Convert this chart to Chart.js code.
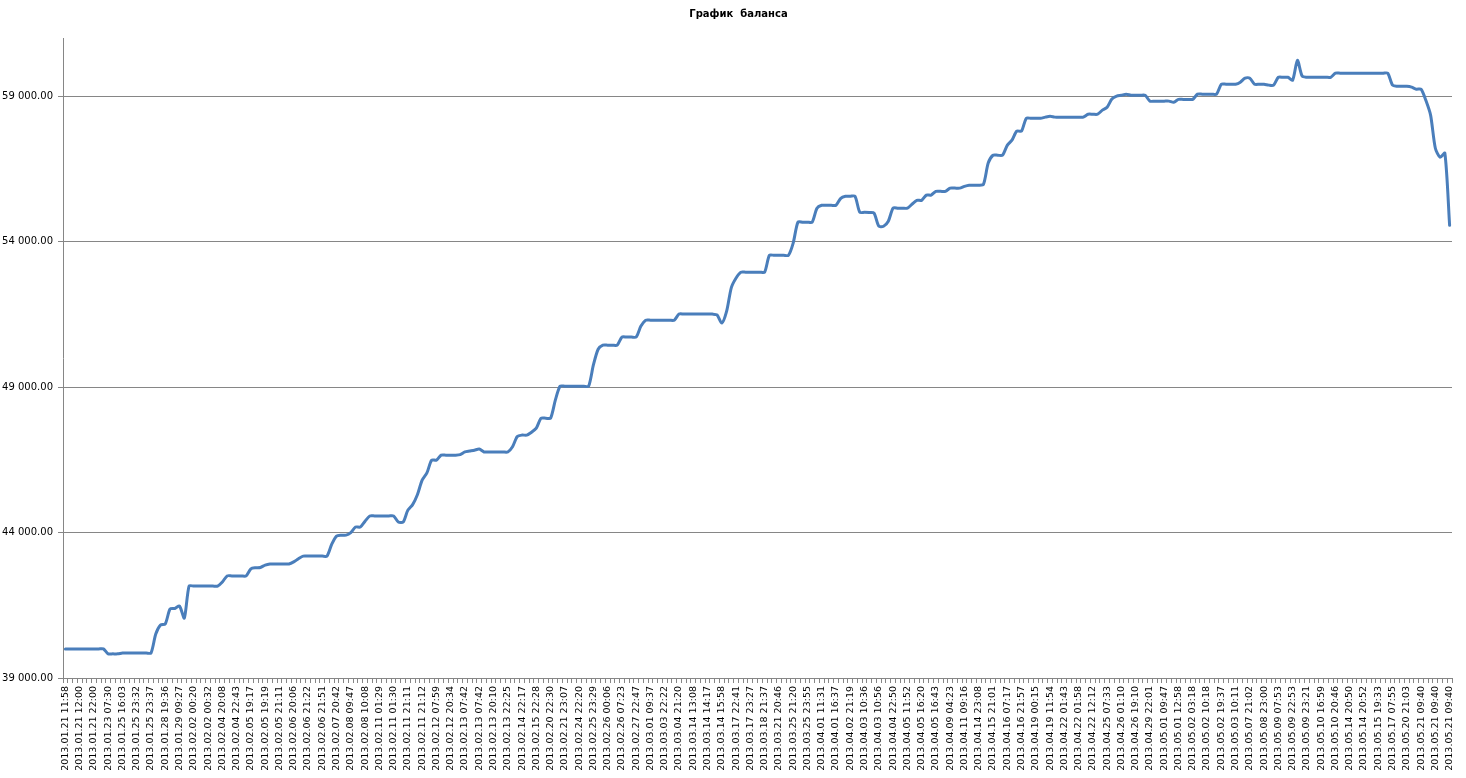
<!DOCTYPE html>
<html>
<head>
<meta charset="utf-8">
<title>График баланса</title>
<script src="https://cdn.jsdelivr.net/npm/chart.js@4.4.1/dist/chart.umd.min.js"></script>
<style>
  html, body { margin: 0; padding: 0; background: #ffffff; }
  #chartBalance { display: block; }
</style>
</head>
<body>
<canvas id="chartBalance" width="1466" height="778"></canvas>
<script>
// Подписи оси X (каждая третья точка)
const shownLabels = [
  '2013.01.21 11:58','2013.01.21 12:00','2013.01.21 22:00','2013.01.23 07:30','2013.01.25 16:03','2013.01.25 23:32',
  '2013.01.25 23:37','2013.01.28 19:36','2013.01.29 09:27','2013.02.02 00:20','2013.02.02 00:32','2013.02.04 20:08',
  '2013.02.04 22:43','2013.02.05 19:17','2013.02.05 19:19','2013.02.05 21:11','2013.02.06 20:06',
  '2013.02.06 21:22','2013.02.06 21:51','2013.02.07 20:42','2013.02.08 09:47','2013.02.08 10:08','2013.02.11 01:29',
  '2013.02.11 01:30','2013.02.11 21:11','2013.02.11 21:12','2013.02.12 07:59','2013.02.12 20:34','2013.02.13 07:42',
  '2013.02.13 07:42','2013.02.13 20:10','2013.02.13 22:25','2013.02.14 22:17','2013.02.15 22:28',
  '2013.02.20 22:30','2013.02.21 23:07','2013.02.24 22:20','2013.02.25 23:29','2013.02.26 00:06','2013.02.26 07:23',
  '2013.02.27 22:47','2013.03.01 09:37','2013.03.03 22:22','2013.03.04 21:20','2013.03.14 13:08','2013.03.14 14:17',
  '2013.03.14 15:58','2013.03.17 22:41','2013.03.17 23:27','2013.03.18 21:37','2013.03.21 20:46','2013.03.25 21:20',
  '2013.03.25 23:55','2013.04.01 11:31','2013.04.01 16:37','2013.04.02 21:19','2013.04.03 10:36','2013.04.03 10:56',
  '2013.04.04 22:50','2013.04.05 11:52','2013.04.05 16:20','2013.04.05 16:43','2013.04.09 04:23','2013.04.11 09:16',
  '2013.04.14 23:08','2013.04.15 21:01','2013.04.16 07:17','2013.04.16 21:57','2013.04.19 00:15',
  '2013.04.19 11:54','2013.04.22 01:43','2013.04.22 01:58','2013.04.22 12:12','2013.04.25 07:33','2013.04.26 01:10',
  '2013.04.26 19:10','2013.04.29 22:01','2013.05.01 09:47','2013.05.01 12:58','2013.05.02 03:18','2013.05.02 10:18',
  '2013.05.02 19:37','2013.05.03 10:11','2013.05.07 21:02','2013.05.08 23:00','2013.05.09 07:53','2013.05.09 22:53',
  '2013.05.09 23:21','2013.05.10 16:59','2013.05.10 20:46','2013.05.14 20:50','2013.05.14 20:52','2013.05.15 19:33',
  '2013.05.17 07:55','2013.05.20 21:03','2013.05.21 09:40','2013.05.21 09:40','2013.05.21 09:40'
];

// Баланс по сделкам
const balance = [
  40000,40000,40000,40000,40000,40000,40000,40000,40000,39830,
  39830,39830,39860,39860,39860,39860,39860,39860,39860,40510,
  40820,40860,41370,41390,41470,41060,42160,42160,42160,42160,
  42160,42160,42160,42300,42510,42510,42510,42510,42510,42750,
  42790,42800,42880,42920,42920,42920,42920,42920,42990,43100,
  43190,43190,43190,43190,43190,43190,43600,43880,43910,43910,
  44000,44190,44190,44390,44570,44570,44570,44570,44570,44570,
  44360,44360,44770,44960,45300,45800,46050,46490,46490,46660,
  46660,46660,46660,46680,46770,46800,46830,46870,46770,46770,
  46770,46770,46770,46770,46950,47300,47350,47350,47450,47590,
  47930,47930,47930,48550,49030,49030,49030,49030,49030,49030,
  49030,49760,50300,50440,50440,50440,50440,50720,50720,50720,
  50720,51100,51300,51300,51300,51300,51300,51300,51300,51510,
  51510,51510,51510,51510,51510,51510,51510,51480,51200,51600,
  52420,52750,52950,52950,52950,52950,52950,52950,53530,53530,
  53530,53530,53530,53950,54670,54670,54670,54670,55150,55250,
  55250,55250,55250,55490,55560,55560,55560,55010,55010,55000,
  54980,54530,54530,54700,55150,55150,55150,55150,55290,55420,
  55420,55600,55600,55730,55730,55730,55840,55840,55840,55900,
  55940,55940,55940,55970,56700,56970,56970,56970,57310,57490,
  57800,57800,58240,58240,58240,58240,58280,58310,58280,58280,
  58280,58280,58280,58280,58280,58380,58380,58380,58520,58620,
  58900,59000,59030,59070,59030,59030,59030,59030,58830,58830,
  58830,58830,58830,58790,58890,58890,58890,58890,59070,59070,
  59070,59070,59070,59410,59410,59410,59410,59480,59620,59620,
  59410,59410,59410,59380,59380,59650,59650,59650,59550,60230,
  59690,59650,59650,59650,59650,59650,59650,59790,59790,59790,
  59790,59790,59790,59790,59790,59790,59790,59790,59790,59380,
  59340,59340,59340,59310,59240,59240,58860,58350,57210,56900,
  57040,54560
];

// Деления оси Y
const yTicks = [39000, 44000, 49000, 54000, 59000];
const yMin = 39000;
const yMax = 61000;
const labelStep = 3;

const labels = balance.map((v, i) => (i % labelStep === 0 ? shownLabels[i / labelStep] : ''));

function formatMoney(v) {
  const th = Math.floor(v / 1000);
  const rest = String(v % 1000).padStart(3, '0');
  return th + ' ' + rest + '.00';
}

// the original title sits a bit right of the canvas centre
const titleShift = {
  id: 'titleShift',
  afterLayout(chart) {
    if (chart.titleBlock) chart.titleBlock.left += 25;
  }
};

const axisColor = '#868686';
const ctx = document.getElementById('chartBalance').getContext('2d');

new Chart(ctx, {
  type: 'line',
  data: {
    labels: labels,
    datasets: [{
      label: 'Баланс',
      data: balance,
      borderColor: '#4a7ebb',
      borderWidth: 3,
      pointRadius: 0,
      pointHoverRadius: 0,
      fill: false,
      tension: 0.25,
      borderJoinStyle: 'round',
      borderCapStyle: 'round'
    }]
  },
  options: {
    responsive: false,
    animation: false,
    layout: {
      padding: { left: 0, right: 14, top: 0, bottom: 0 }
    },
    plugins: {
      legend: { display: false },
      tooltip: { enabled: false },
      title: {
        display: true,
        text: 'График  баланса',
        color: '#000000',
        font: { family: 'DejaVu Sans', size: 10, weight: 'bold' },
        padding: { top: 8, bottom: 18 }
      }
    },
    scales: {
      x: {
        offset: true,
        grid: {
          offset: true,
          drawOnChartArea: false,
          drawTicks: true,
          tickLength: 5,
          color: axisColor
        },
        border: { color: axisColor },
        ticks: {
          autoSkip: false,
          minRotation: 90,
          maxRotation: 90,
          padding: 3,
          color: '#000000',
          font: { family: 'DejaVu Sans', size: 9.5 }
        },
        afterFit: (scale) => { scale.height = 100; }
      },
      y: {
        min: yMin,
        max: yMax,
        grid: {
          color: axisColor,
          tickLength: 5
        },
        border: { color: axisColor },
        ticks: {
          padding: 5,
          color: '#000000',
          font: { family: 'DejaVu Sans', size: 10 },
          callback: (v) => formatMoney(v)
        },
        afterBuildTicks: (scale) => {
          scale.ticks = yTicks.map(v => ({ value: v }));
        },
        afterFit: (scale) => { scale.width = 63; }
      }
    }
  },
  plugins: [titleShift]
});
</script>
</body>
</html>
